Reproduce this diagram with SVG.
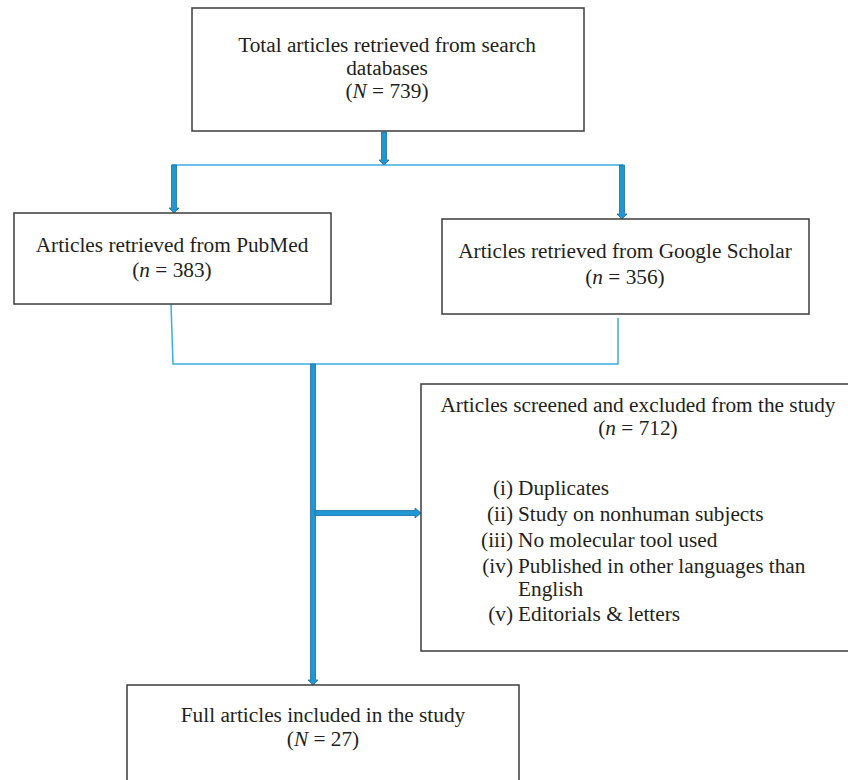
<svg xmlns="http://www.w3.org/2000/svg" width="848" height="780" viewBox="0 0 848 780">
<style>
.box{fill:#fff;stroke:#3c3c3c;stroke-width:1.5}
text{font-family:"Liberation Serif","Times New Roman",serif;font-size:21.3px;fill:#231f20}
.c{text-anchor:middle}
.e{text-anchor:end}
.thin{fill:none;stroke:#3aaee2;stroke-width:1.5}
.blk{fill:#2196d3;stroke:#1b6fa3;stroke-width:0.8}
</style>
<rect width="848" height="780" fill="#fff"/>
<g id="connectors">
<polyline class="thin" points="172,165 623,165"/>
<polyline class="thin" points="171,304 173,364 618,364 618,318"/>
<polygon class="blk" points="381.5,132 386.5,132 386.5,160 389,160 384,165 379,160 381.5,160"/>
<polygon class="blk" points="171.5,165 176.5,165 176.5,208 179,208 174,213 169,208 171.5,208"/>
<polygon class="blk" points="619.5,165 624.5,165 624.5,214 627,214 622,219 617,214 619.5,214"/>
<polygon class="blk" points="310.5,364 315.5,364 315.5,680 318,680 313,685 308,680 310.5,680"/>
<polygon class="blk" points="315,510.5 415,510.5 415,508 421,513 415,518 415,515.5 315,515.5"/>
</g>
<g id="total">
<rect class="box" x="192" y="8" width="392" height="123"/>
<text class="c" x="387" y="52">Total articles retrieved from search</text>
<text class="c" x="387" y="75">databases</text>
<text class="c" x="387" y="98">(<tspan font-style="italic">N</tspan> = 739)</text>
</g>
<g id="pubmed">
<rect class="box" x="14" y="213" width="317" height="91"/>
<text class="c" x="172" y="252">Articles retrieved from PubMed</text>
<text class="c" x="172" y="277">(<tspan font-style="italic">n</tspan> = 383)</text>
</g>
<g id="scholar">
<rect class="box" x="442" y="219" width="367" height="95"/>
<text class="c" x="625" y="258">Articles retrieved from Google Scholar</text>
<text class="c" x="625" y="284">(<tspan font-style="italic">n</tspan> = 356)</text>
</g>
<g id="excluded">
<rect class="box" x="421" y="384" width="440" height="267"/>
<text class="c" x="638" y="412">Articles screened and excluded from the study</text>
<text class="c" x="638" y="435">(<tspan font-style="italic">n</tspan> = 712)</text>
<text class="e" x="513" y="495">(i)</text>
<text x="518" y="495">Duplicates</text>
<text class="e" x="513" y="521">(ii)</text>
<text x="518" y="521">Study on nonhuman subjects</text>
<text class="e" x="513" y="547">(iii)</text>
<text x="518" y="547">No molecular tool used</text>
<text class="e" x="513" y="573">(iv)</text>
<text x="518" y="573">Published in other languages than</text>
<text x="518" y="596">English</text>
<text class="e" x="513" y="621">(v)</text>
<text x="518" y="621">Editorials &amp; letters</text>
</g>
<g id="included">
<rect class="box" x="127" y="685" width="392" height="110"/>
<text class="c" x="323" y="722">Full articles included in the study</text>
<text class="c" x="323" y="746">(<tspan font-style="italic">N</tspan> = 27)</text>
</g>
</svg>
